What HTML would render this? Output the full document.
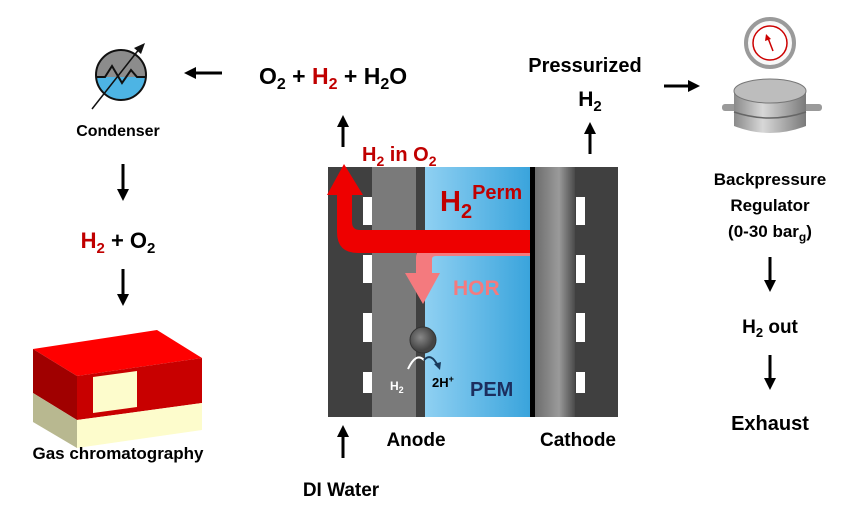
<!DOCTYPE html>
<html><head><meta charset="utf-8"><style>
html,body{margin:0;padding:0;background:#fff;}
svg{display:block;font-family:"Liberation Sans",Arial,sans-serif;font-weight:bold;}
</style></head><body>
<svg width="850" height="508" viewBox="0 0 850 508" xmlns="http://www.w3.org/2000/svg">
<defs>
<marker id="ah" markerWidth="4" markerHeight="4" refX="2" refY="2" orient="auto" markerUnits="strokeWidth"><path d="M0,0 L4,2 L0,4 z" fill="#000"/></marker>
<linearGradient id="blue" x1="0" x2="1"><stop offset="0" stop-color="#8fd0f2"/><stop offset="1" stop-color="#3aa4dc"/></linearGradient>
<linearGradient id="grayg" x1="0" x2="1"><stop offset="0" stop-color="#6d6d6d"/><stop offset="0.6" stop-color="#9a9a9a"/><stop offset="1" stop-color="#4a4a4a"/></linearGradient>
<linearGradient id="cyl" x1="0" x2="1"><stop offset="0" stop-color="#8a8a8a"/><stop offset="0.4" stop-color="#d8d8d8"/><stop offset="1" stop-color="#7a7a7a"/></linearGradient>
<radialGradient id="ball" cx="0.4" cy="0.4"><stop offset="0" stop-color="#888"/><stop offset="1" stop-color="#444"/></radialGradient>
</defs>

<clipPath id="cc"><circle cx="121" cy="75" r="25"/></clipPath>
<g clip-path="url(#cc)"><rect x="90" y="45" width="62" height="32" fill="#8c8c8c"/><rect x="90" y="77" width="62" height="30" fill="#4db4e4"/></g>
<circle cx="121" cy="75" r="25" fill="none" stroke="#111" stroke-width="2"/>
<polyline points="96,77 105,77 112,66 122,83 131,70 137,77 146,77" fill="none" stroke="#111" stroke-width="2"/>
<line x1="92" y1="109" x2="140" y2="48" stroke="#111" stroke-width="1.5"/>
<path d="M145,43 L134,48 L141,54 z" fill="#111"/>
<text x="118" y="136" font-size="16" text-anchor="middle">Condenser</text>

<line x1="222" y1="73" x2="190" y2="73" stroke="#000" stroke-width="3" marker-end="url(#ah)"/>
<line x1="123" y1="164" x2="123" y2="195" stroke="#000" stroke-width="3" marker-end="url(#ah)"/>
<text x="118" y="248" font-size="22" text-anchor="middle"><tspan fill="#c00000">H<tspan font-size="15" dy="5">2</tspan></tspan><tspan dy="-5"> + O</tspan><tspan font-size="15" dy="5">2</tspan></text>
<line x1="123" y1="269" x2="123" y2="300" stroke="#000" stroke-width="3" marker-end="url(#ah)"/>

<polygon points="33,349 157,330 202,358 77,376" fill="#ff0000"/>
<polygon points="33,349 77,376 77,420 33,393" fill="#a00000"/>
<polygon points="33,393 77,420 77,448 33,422" fill="#b8b890"/>
<polygon points="77,376 202,358 202,403 77,420" fill="#c80000"/>
<polygon points="77,420 202,403 202,430 77,448" fill="#fdfccc"/>
<polygon points="93,377 137,371 137,407 93,413" fill="#fdfccc"/>
<text x="118" y="459" font-size="17" text-anchor="middle">Gas chromatography</text>

<text x="259" y="84" font-size="23">O<tspan font-size="16" dy="5">2</tspan><tspan dy="-5"> + </tspan><tspan fill="#c00000">H<tspan font-size="16" dy="5">2</tspan></tspan><tspan dy="-5"> + H</tspan><tspan font-size="16" dy="5">2</tspan><tspan dy="-5">O</tspan></text>
<text x="585" y="72" font-size="20" text-anchor="middle">Pressurized</text>
<text x="590" y="106" font-size="21" text-anchor="middle">H<tspan font-size="15" dy="5">2</tspan></text>
<line x1="343" y1="147" x2="343" y2="121" stroke="#000" stroke-width="3" marker-end="url(#ah)"/>
<line x1="590" y1="154" x2="590" y2="128" stroke="#000" stroke-width="3" marker-end="url(#ah)"/>
<line x1="664" y1="86" x2="694" y2="86" stroke="#000" stroke-width="3" marker-end="url(#ah)"/>
<text x="362" y="161" font-size="20" fill="#c00000">H<tspan font-size="14" dy="5">2</tspan><tspan dy="-5"> in O</tspan><tspan font-size="14" dy="5">2</tspan></text>

<rect x="328" y="167" width="44" height="250" fill="#404040"/>
<rect x="372" y="167" width="44" height="250" fill="#7a7a7a"/>
<rect x="416" y="167" width="9" height="250" fill="#404040"/>
<rect x="425" y="167" width="105" height="250" fill="url(#blue)"/>
<rect x="530" y="167" width="5" height="250" fill="#000"/>
<rect x="535" y="167" width="40" height="250" fill="url(#grayg)"/>
<rect x="575" y="167" width="43" height="250" fill="#404040"/>
<g fill="#fff">
<rect x="363" y="197" width="9" height="28"/><rect x="363" y="255" width="9" height="28"/><rect x="363" y="313" width="9" height="29"/><rect x="363" y="372" width="9" height="21"/>
<rect x="576" y="197" width="9" height="28"/><rect x="576" y="255" width="9" height="28"/><rect x="576" y="313" width="9" height="29"/><rect x="576" y="372" width="9" height="21"/>
</g>
<path d="M530,243 L432,243 Q416,243 416,258 L416,273 L405,273 L423,304 L440,273 L432,273 L432,259 Q432,256 436,256 L530,256 z" fill="#f47a7e"/>
<path d="M530,230 L360,230 Q352,230 352,222 L352,195 L363,195 L344,164 L327,195 L337,195 L337,232 Q337,253 358,253 L530,253 z" fill="#ee0000"/>
<text x="440" y="211" font-size="29" fill="#c00000">H<tspan font-size="20" dy="7">2</tspan><tspan font-size="20" dy="-19">Perm</tspan></text>
<text x="453" y="295" font-size="21" fill="#f47a7e">HOR</text>
<circle cx="423" cy="340" r="13" fill="url(#ball)" stroke="#333"/>
<path d="M408,369 Q416,352 424,360" fill="none" stroke="#fff" stroke-width="2"/>
<path d="M424,360 Q431,352 438,366" fill="none" stroke="#1a3a5a" stroke-width="2"/>
<path d="M434,364 L440,370 L441,362 z" fill="#1a3a5a"/>
<text x="390" y="390" font-size="12" fill="#fff">H<tspan font-size="9" dy="3">2</tspan></text>
<text x="432" y="387" font-size="13" fill="#000">2H<tspan font-size="9" dy="-5">+</tspan></text>
<text x="470" y="396" font-size="20" fill="#1c2e5e">PEM</text>

<line x1="343" y1="458" x2="343" y2="431" stroke="#000" stroke-width="3" marker-end="url(#ah)"/>
<text x="416" y="446" font-size="19" text-anchor="middle">Anode</text>
<text x="578" y="446" font-size="19" text-anchor="middle">Cathode</text>
<text x="341" y="496" font-size="19" text-anchor="middle">DI Water</text>

<circle cx="770" cy="43" r="24" fill="#f8f8f8" stroke="#9a9a9a" stroke-width="4"/>
<circle cx="770" cy="43" r="17" fill="#fff" stroke="#cc0000" stroke-width="1.5"/>
<line x1="773" y1="51" x2="768" y2="38" stroke="#cc0000" stroke-width="1.5"/>
<path d="M766,34 L765,41 L771,39 z" fill="#cc0000"/>
<rect x="722" y="104" width="100" height="7" rx="3" fill="#9a9a9a"/>
<path d="M734,91 L734,126 Q770,140 806,126 L806,91 z" fill="url(#cyl)"/>
<path d="M734,112 Q770,124 806,112" fill="none" stroke="#666" stroke-width="1.5"/>
<ellipse cx="770" cy="91" rx="36" ry="12" fill="#bdbdbd" stroke="#777"/>
<text x="770" y="185" font-size="17" text-anchor="middle">Backpressure</text>
<text x="770" y="211" font-size="17" text-anchor="middle">Regulator</text>
<text x="770" y="237" font-size="17" text-anchor="middle">(0-30 bar<tspan font-size="12" dy="4">g</tspan><tspan dy="-4">)</tspan></text>
<line x1="770" y1="257" x2="770" y2="286" stroke="#000" stroke-width="3" marker-end="url(#ah)"/>
<text x="770" y="333" font-size="19" text-anchor="middle">H<tspan font-size="13" dy="4">2</tspan><tspan dy="-4"> out</tspan></text>
<line x1="770" y1="355" x2="770" y2="384" stroke="#000" stroke-width="3" marker-end="url(#ah)"/>
<text x="770" y="430" font-size="20" text-anchor="middle">Exhaust</text>
</svg>
</body></html>
